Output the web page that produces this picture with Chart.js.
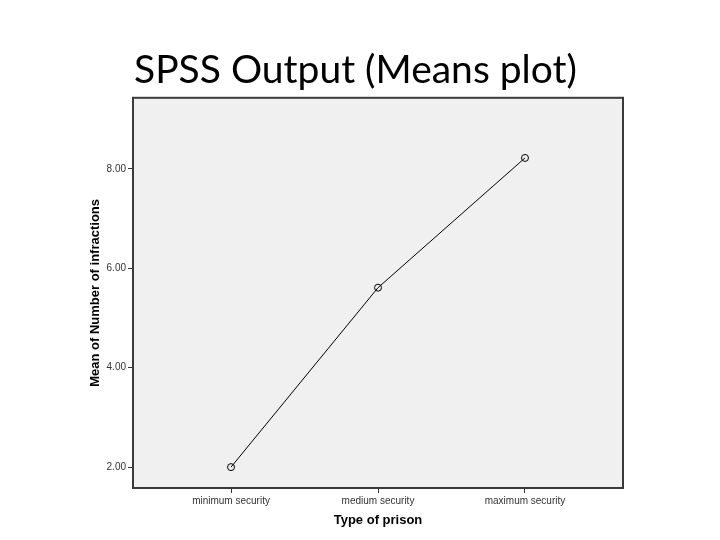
<!DOCTYPE html>
<html>
<head>
<meta charset="utf-8">
<script src="https://cdn.jsdelivr.net/npm/chart.js@4/dist/chart.umd.min.js"></script>
<style>
html,body{margin:0;padding:0;background:#fff;}
#wrap{width:720px;height:540px;position:relative;}
</style>
</head>
<body>
<div id="wrap"><canvas id="c" width="720" height="540"></canvas></div>
<script>
const chartTitle = "SPSS Output (Means plot)";
const categories = ["minimum security", "medium security", "maximum security"];
const meanInfractions = [2.00, 5.61, 8.22];
const yTicks = [2, 4, 6, 8];
const xTitle = "Type of prison";
const yTitle = "Mean of Number of infractions";

const frame = {
  id: 'frame',
  beforeDraw(chart) {
    const a = chart.chartArea, ctx = chart.ctx;
    ctx.save();
    ctx.fillStyle = '#f0f0f0';
    ctx.fillRect(a.left, a.top, a.right - a.left, a.bottom - a.top);
    ctx.restore();
  },
  afterDraw(chart) {
    const a = chart.chartArea, ctx = chart.ctx;
    ctx.save();
    ctx.strokeStyle = '#3a3a3a';
    ctx.lineWidth = 2;
    ctx.strokeRect(a.left, a.top, a.right - a.left, a.bottom - a.top);
    ctx.restore();
  }
};

new Chart(document.getElementById('c'), {
  type: 'line',
  data: {
    datasets: [{
      data: meanInfractions.map((v, i) => ({x: i, y: v})),
      borderColor: '#000',
      borderWidth: 1,
      pointRadius: 3.5,
      pointBorderColor: '#000',
      pointBackgroundColor: 'rgba(0,0,0,0)',
      pointBorderWidth: 1,
      tension: 0,
      fill: false
    }]
  },
  plugins: [frame],
  options: {
    responsive: false,
    animation: false,
    layout: {padding: {left: 88, right: 97, top: 0, bottom: 12}},
    plugins: {
      legend: {display: false},
      tooltip: {enabled: false},
      title: {
        display: true,
        text: chartTitle,
        color: '#000',
        font: {family: 'Lato', size: 39, weight: 'normal'},
        padding: {top: 47, bottom: 4},
        lineHeight: 1.2
      }
    },
    scales: {
      x: {
        type: 'linear',
        min: -0.667,
        max: 2.667,
        afterBuildTicks(s) { s.ticks = categories.map((c, i) => ({value: i})); },
        afterFit(s) { s.height = 40; },
        ticks: {
          callback: (v) => categories[v],
          color: '#333',
          font: {family: 'Liberation Sans', size: 10},
          padding: 2,
          maxRotation: 0
        },
        grid: {display: true, drawOnChartArea: false, drawTicks: true, tickLength: 5, tickColor: '#333', color: '#333'},
        border: {display: false},
        title: {
          display: true,
          text: xTitle,
          color: '#000',
          font: {family: 'Liberation Sans', size: 13, weight: 'bold'},
          padding: {top: 4, bottom: 0}
        }
      },
      y: {
        min: 1.58,
        max: 9.43,
        afterBuildTicks(s) { s.ticks = yTicks.map(v => ({value: v})); },
        afterFit(s) { s.width = 45; },
        ticks: {
          callback: (v) => v.toFixed(2),
          color: '#333',
          font: {family: 'Liberation Sans', size: 10},
          padding: 2
        },
        grid: {display: true, drawOnChartArea: false, drawTicks: true, tickLength: 5, tickColor: '#333', color: '#333'},
        border: {display: false},
        title: {
          display: true,
          text: yTitle,
          color: '#000',
          font: {family: 'Liberation Sans', size: 13, weight: 'bold'},
          padding: {top: 0, bottom: 0}
        }
      }
    }
  }
});
</script>
</body>
</html>
